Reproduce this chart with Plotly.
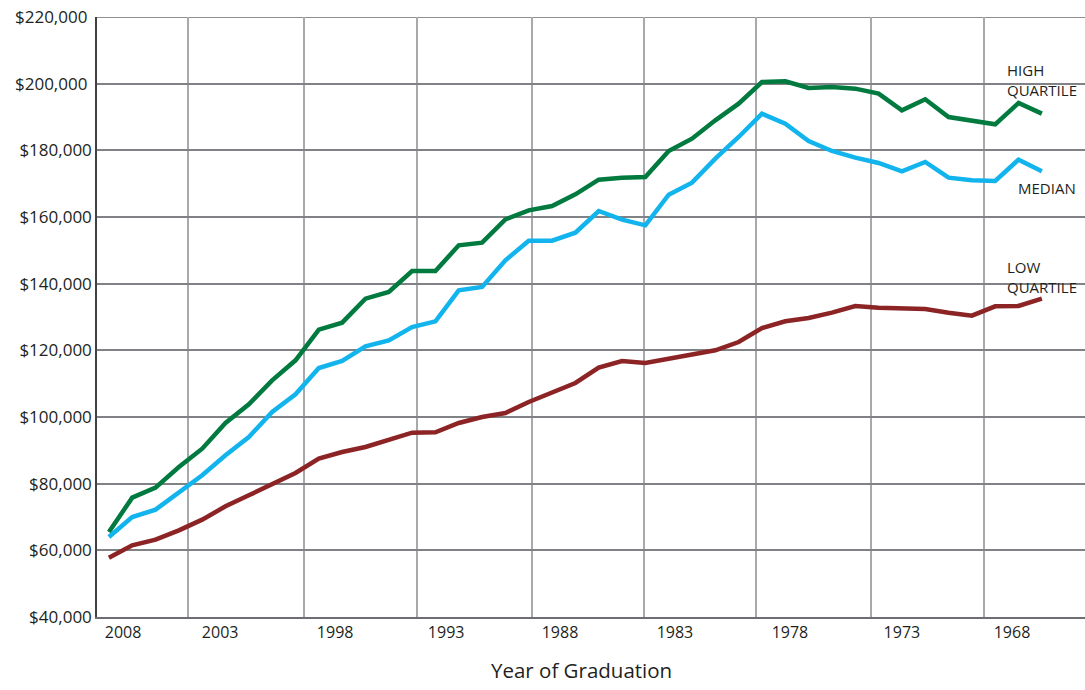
import plotly.graph_objects as go

# Graduation years (x) -- plotted right-to-left
years = [2008, 2007, 2006, 2005, 2004, 2003, 2002, 2001, 2000, 1999,
         1998, 1997, 1996, 1995, 1994, 1993, 1992, 1991, 1990, 1989,
         1988, 1987, 1986, 1985, 1984, 1983, 1982, 1981, 1980, 1979,
         1978, 1977, 1976, 1975, 1974, 1973, 1972, 1971, 1970, 1969, 1968]

high_quartile = [65500, 75800, 78800, 85000, 90500, 98200, 103800, 111000, 117000, 126200,
                 128300, 135500, 137500, 143800, 143800, 151500, 152300, 159300, 162000, 163300,
                 166800, 171200, 171800, 172000, 179800, 183500, 189000, 194000, 200500, 200700,
                 198700, 199000, 198500, 197000, 192000, 195300, 190000, 189000, 187800, 194200,
                 191000]

median = [64000, 70000, 72200, 77200, 82500, 88500, 94000, 101500, 106800, 114700,
          116800, 121200, 123000, 127000, 128700, 138000, 139000, 147000, 152900, 152900,
          155300, 161800, 159200, 157500, 166700, 170300, 177500, 184000, 191000, 188000,
          182800, 179800, 177800, 176200, 173700, 176500, 171800, 171000, 170800, 177200,
          173700]

low_quartile = [57800, 61500, 63200, 66000, 69200, 73200, 76500, 79800, 83200, 87500,
                89500, 91000, 93200, 95300, 95400, 98200, 100000, 101200, 104500, 107500,
                110200, 114800, 116800, 116200, 117500, 118800, 120000, 122500, 126700, 128700,
                129700, 131300, 133300, 132800, 132500, 132400, 131300, 130400, 133200, 133300,
                135500]

# Axis labels as they sit in the original graphic
xtick_text = ["2008", "2003", "1998", "1993", "1988", "1983", "1978", "1973", "1968"]
xtick_pos = [2007.39, 2003.23, 1998.30, 1993.54, 1988.66, 1983.73, 1978.80, 1974.0, 1969.28]
xgrid_pos = [2004.60, 1999.64, 1994.79, 1989.87, 1985.04, 1980.25, 1975.32, 1970.47]

ytick_vals = [40000, 60000, 80000, 100000, 120000, 140000, 160000, 180000, 200000, 220000]
ytick_text = ["$40,000", "$60,000", "$80,000", "$100,000", "$120,000", "$140,000",
              "$160,000", "$180,000", "$200,000\u00a0", "$220,000\u00a0"]

series_names = ["HIGH<br>QUARTILE", "MEDIAN", "LOW<br>QUARTILE"]
series_colors = ["#007a3f", "#12b4ee", "#8c2425"]

FONT = "Open Sans"

fig = go.Figure()
for name, vals, col in zip(series_names, [high_quartile, median, low_quartile], series_colors):
    fig.add_trace(go.Scatter(x=years, y=vals, mode="lines", name=name.replace("<br>", " "),
                             line=dict(color=col, width=4.5), showlegend=False))

fig.update_layout(
    width=1085, height=690,
    margin=dict(l=97, r=0, t=17, b=73),
    paper_bgcolor="white", plot_bgcolor="white",
    font=dict(family=FONT, color="#231f20", size=16),
    xaxis=dict(
        range=[2008.51, 1966.15],
        tickmode="array", tickvals=xtick_pos, ticktext=xtick_text,
        ticks="", showgrid=False, zeroline=False,
        showline=True, linecolor="#6d6e71", linewidth=2,
        tickfont=dict(size=16, family=FONT, color="#231f20"),
        minor=dict(tickmode="array", tickvals=xgrid_pos, showgrid=True,
                   gridcolor="#a7a9ac", gridwidth=2, ticks=""),
    ),
    yaxis=dict(
        range=[40000, 220000],
        tickmode="array", tickvals=ytick_vals, ticktext=ytick_text,
        ticks="", showgrid=True, gridcolor="#808285", gridwidth=1.5,
        zeroline=False, showline=True, linecolor="#414042", linewidth=1.5,
        tickfont=dict(size=17, family=FONT, color="#231f20"),
    ),
)

# darker rule at $200,000 and top border
for yv in [200000, 220000]:
    fig.add_shape(type="line", xref="paper", yref="y", x0=0, x1=1, y0=yv, y1=yv,
                  line=dict(color="#231f20", width=1.2), layer="below")

# Series labels (left edge in paper coords, centre in data coords)
label_x = [0.919, 0.930, 0.919]
label_y = [201100, 168600, 142000]
for txt, xp, yv in zip(series_names, label_x, label_y):
    fig.add_annotation(text=txt, xref="paper", yref="y", x=xp, y=yv,
                       xanchor="left", yanchor="middle", align="left", showarrow=False,
                       font=dict(size=15, family=FONT, color="#231f20"))

fig.add_annotation(text="Year of Graduation", xref="paper", yref="paper",
                   x=0.490, y=-0.089, xanchor="center", yanchor="middle",
                   showarrow=False, font=dict(size=20.5, family=FONT, color="#231f20"))

fig.write_html("out.html",
               config={"displayModeBar": False},
               post_script="document.body.style.margin='0';document.body.style.overflow='hidden';")
